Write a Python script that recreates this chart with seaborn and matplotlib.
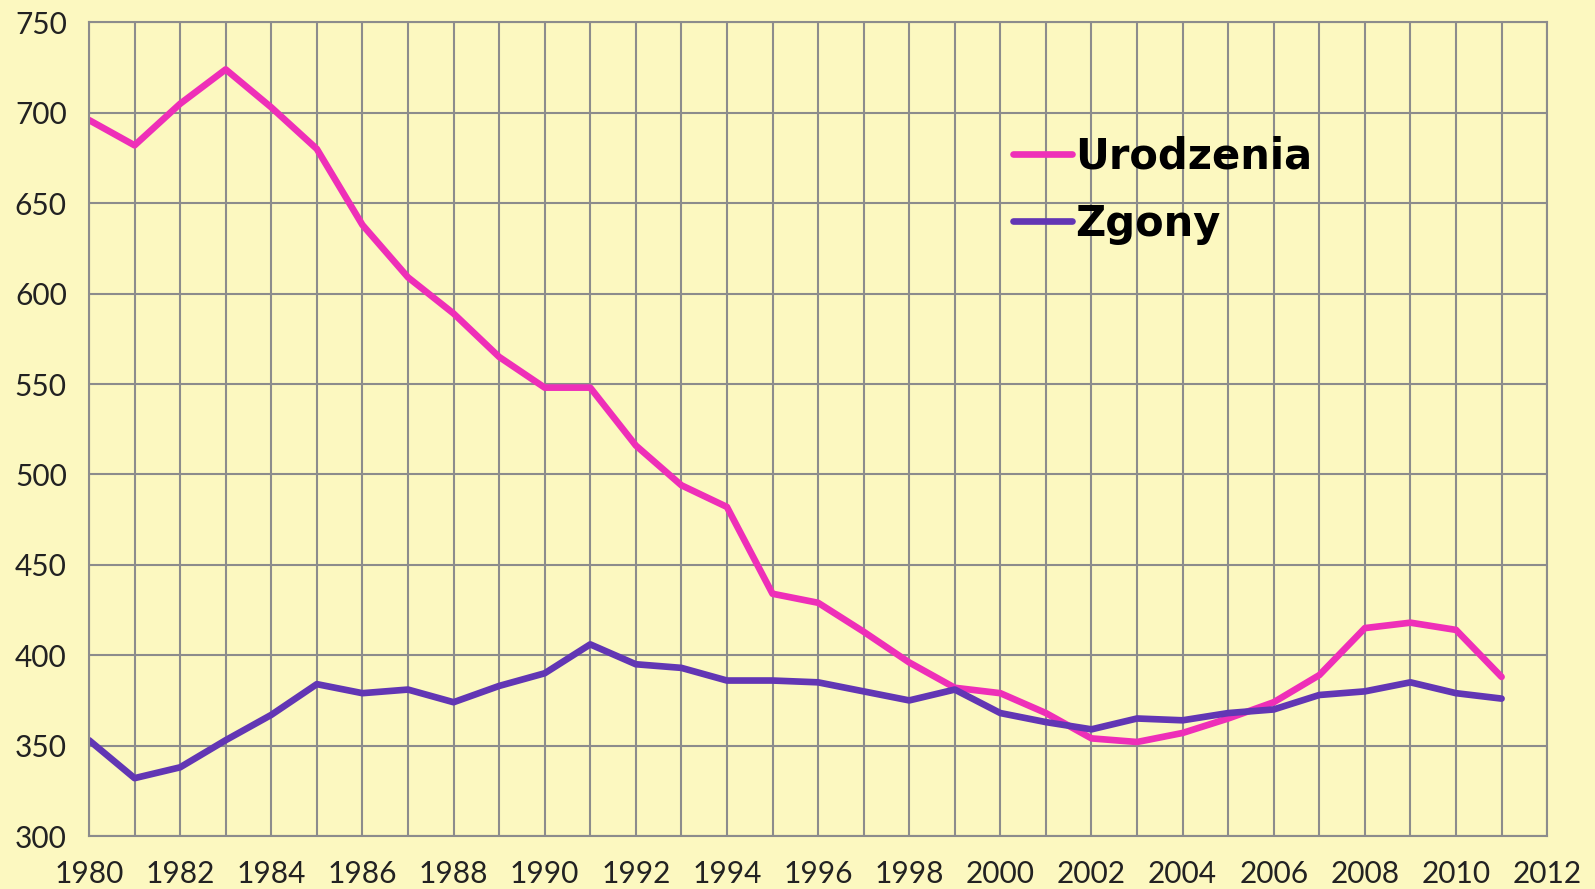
import pandas as pd
import matplotlib
matplotlib.use("Agg")
import matplotlib.pyplot as plt
import seaborn as sns

sns.set_style("white")
plt.rcParams['font.family'] = ['Lato', 'DejaVu Sans']

# ----------------------------------------
# Data (thousands)
# ----------------------------------------
years = list(range(1980, 2012))
urodzenia = [696, 682, 705, 724, 703, 680, 638, 609, 589, 565,
             548, 548, 516, 494, 482, 434, 429, 413, 396, 382,
             379, 368, 354, 352, 357, 365, 374, 389, 415, 418,
             414, 388]
zgony = [353, 332, 338, 353, 367, 384, 379, 381, 374, 383,
         390, 406, 395, 393, 386, 386, 385, 380, 375, 381,
         368, 363, 359, 365, 364, 368, 370, 378, 380, 385,
         379, 376]
series_names = ["Urodzenia", "Zgony"]
colors = {"Urodzenia": "#EE2FB8", "Zgony": "#6236B4"}

df = pd.DataFrame({"Rok": years * 2,
                   "Wartosc": urodzenia + zgony,
                   "Seria": [series_names[0]] * len(years) + [series_names[1]] * len(years)})

bg = "#FCF8C0"
grid_c = "#8C8C8C"

fig = plt.figure(figsize=(15.95, 8.89), dpi=100, facecolor=bg)
ax = fig.add_axes([0.0558, 0.0596, 0.9142, 0.9152])
ax.set_facecolor(bg)

sns.lineplot(data=df, x="Rok", y="Wartosc", hue="Seria", palette=colors,
             linewidth=4.8, ax=ax, sort=False)

ax.set_xlim(1980, 2012)
ax.set_ylim(300, 750)
ax.set_xticks(range(1980, 2013, 2))
ax.set_xticks(range(1980, 2013, 1), minor=True)
ax.set_yticks(range(300, 751, 50))
ax.grid(True, which="both", color=grid_c, linewidth=1.5)
ax.set_axisbelow(True)
ax.tick_params(axis="both", which="both", direction="out", length=8,
               width=1.5, color=grid_c, labelsize=21.5, labelcolor="#222222")
ax.tick_params(axis="y", pad=8)
ax.tick_params(axis="x", pad=9)
for s in ax.spines.values():
    s.set_color(grid_c)
    s.set_linewidth(1.5)
ax.set_xlabel("")
ax.set_ylabel("")

leg = ax.legend(loc="center left", bbox_to_anchor=(0.634, 0.794), frameon=False,
                borderpad=0, borderaxespad=0, handlelength=1.4, handletextpad=0.08,
                labelspacing=0.62, prop={"family": "DejaVu Sans", "weight": "bold", "size": 30})
for line in leg.get_lines():
    line.set_linewidth(4.8)
    line.set_solid_capstyle("round")
for t in leg.get_texts():
    t.set_color("black")

fig.savefig("out.png", dpi=100, facecolor=bg)
